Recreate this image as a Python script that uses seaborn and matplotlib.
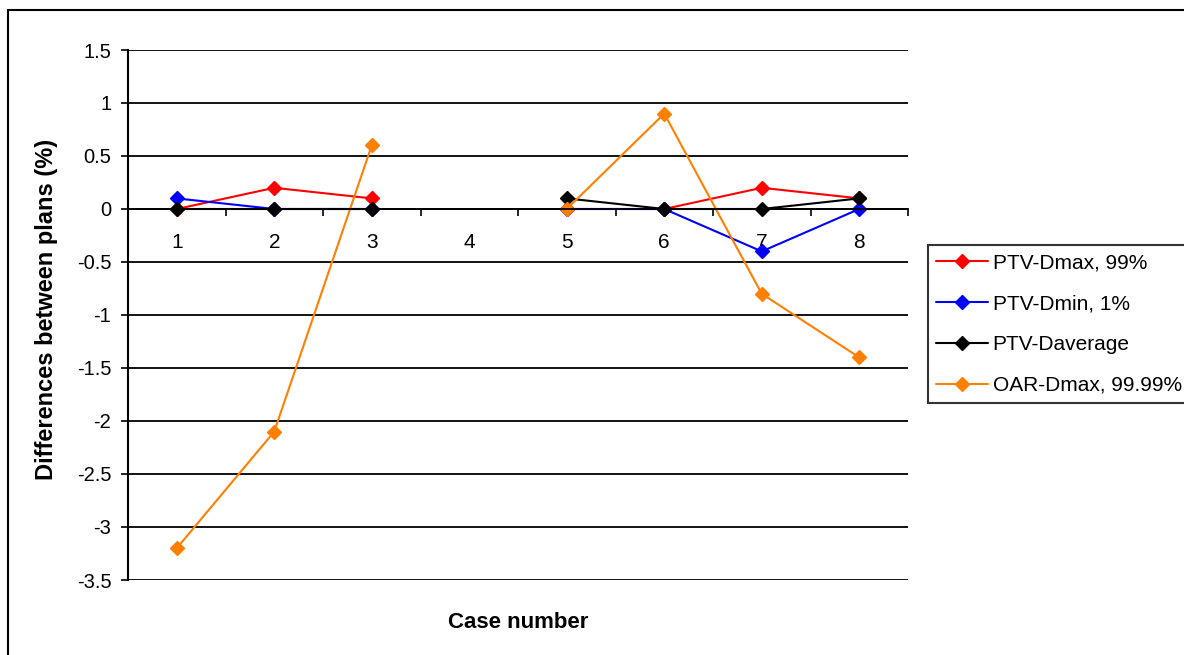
import numpy as np
import pandas as pd
import seaborn as sns
import matplotlib.pyplot as plt
from matplotlib.lines import Line2D

# Data (case 4 has no values)
cases = ["1", "2", "3", "4", "5", "6", "7", "8"]
series_names = ["PTV-Dmax, 99%", "PTV-Dmin, 1%", "PTV-Daverage", "OAR-Dmax, 99.99%"]
ptv_dmax = [0.0, 0.2, 0.1, np.nan, 0.0, 0.0, 0.2, 0.1]
ptv_dmin = [0.1, 0.0, 0.0, np.nan, 0.0, 0.0, -0.4, 0.0]
ptv_daverage = [0.0, 0.0, 0.0, np.nan, 0.1, 0.0, 0.0, 0.1]
oar_dmax = [-3.2, -2.1, 0.6, np.nan, 0.0, 0.9, -0.8, -1.4]
colors = ["#FF0000", "#0000FF", "#000000", "#FF7F00"]
y_ticks = [1.5, 1, 0.5, 0, -0.5, -1, -1.5, -2, -2.5, -3, -3.5]

# Long-format table; the missing case splits each line into two segments
rows = []
for name, vals in zip(series_names, [ptv_dmax, ptv_dmin, ptv_daverage, oar_dmax]):
    for i, v in enumerate(vals):
        if np.isnan(v):
            continue
        rows.append({"pos": i, "value": v, "series": name,
                     "segment": 0 if i < 3 else 1})
df = pd.DataFrame(rows)

sns.set_style("white")
plt.rcParams["font.family"] = ["Liberation Sans", "DejaVu Sans"]
plt.rcParams["text.color"] = "black"
plt.rcParams["axes.labelcolor"] = "black"
plt.rcParams["xtick.color"] = "black"
plt.rcParams["ytick.color"] = "black"

fig = plt.figure(figsize=(11.84, 6.55), dpi=100)
ax = fig.add_axes([128 / 1184, 1 - 580 / 655, 780 / 1184, 530 / 655])

sns.lineplot(data=df, x="pos", y="value", hue="series", units="segment",
             estimator=None, hue_order=series_names, palette=colors,
             marker="D", markersize=7, linewidth=1.5, legend=False, ax=ax)
for ln in ax.get_lines():
    ln.set_markeredgecolor(ln.get_color())
    ln.set_markeredgewidth(1)

# y axis
ax.set_ylim(-3.5, 1.5)
ax.set_yticks(y_ticks)
ax.set_yticklabels([f"{t:g}" for t in y_ticks])
ax.yaxis.grid(True, color="black", linewidth=1.3)
ax.set_axisbelow(True)

# category axis crossing at zero
ax.set_xlim(-0.5, 7.5)
ax.set_xticks(np.arange(-0.5, 8, 1))
ax.set_xticklabels([])
ax.set_xticks(np.arange(8), minor=True)
ax.set_xticklabels(cases, minor=True)
ax.tick_params(axis="x", which="major", direction="out", length=5, width=1.2,
               color="black", bottom=True)
ax.tick_params(axis="x", which="minor", length=0, pad=17, bottom=True,
               labelsize=15, labelcolor="black")
ax.tick_params(axis="y", direction="out", length=5, width=1.2, color="black",
               left=True, pad=7, labelsize=14.5, labelcolor="black")

for side in ["top", "right"]:
    ax.spines[side].set_visible(False)
ax.spines["bottom"].set_position(("data", 0))
ax.spines["bottom"].set_color("black")
ax.spines["bottom"].set_linewidth(1.3)
ax.spines["left"].set_color("black")
ax.spines["left"].set_linewidth(1.5)

ax.set_xlabel("Case number", fontsize=16, fontweight="bold", color="black")
ax.set_ylabel("Differences between plans (%)", fontsize=17, fontweight="bold",
              color="black")
ax.xaxis.set_label_coords(0.5, -0.06)
ax.yaxis.set_label_coords(-0.09, 0.51)

# legend
handles = [Line2D([], [], color=c, marker="D", markersize=7, linewidth=1.5,
                  markeredgecolor=c) for c in colors]
leg = fig.legend(handles, series_names, loc="upper left",
                 bbox_to_anchor=(928 / 1184, 1 - 245 / 655), fontsize=15,
                 frameon=True, fancybox=False, edgecolor="black",
                 handlelength=2.5, labelspacing=1.05, borderpad=0.4,
                 handletextpad=0.2, borderaxespad=0)
leg.get_frame().set_linewidth(1.5)

# chart border (top and left edges visible)
fig.add_artist(Line2D([8 / 1184, 1], [1 - 10 / 655, 1 - 10 / 655],
                      color="black", linewidth=1.5, transform=fig.transFigure))
fig.add_artist(Line2D([8 / 1184, 8 / 1184], [0, 1 - 10 / 655],
                      color="black", linewidth=1.5, transform=fig.transFigure))

fig.savefig("out.png", dpi=100)
